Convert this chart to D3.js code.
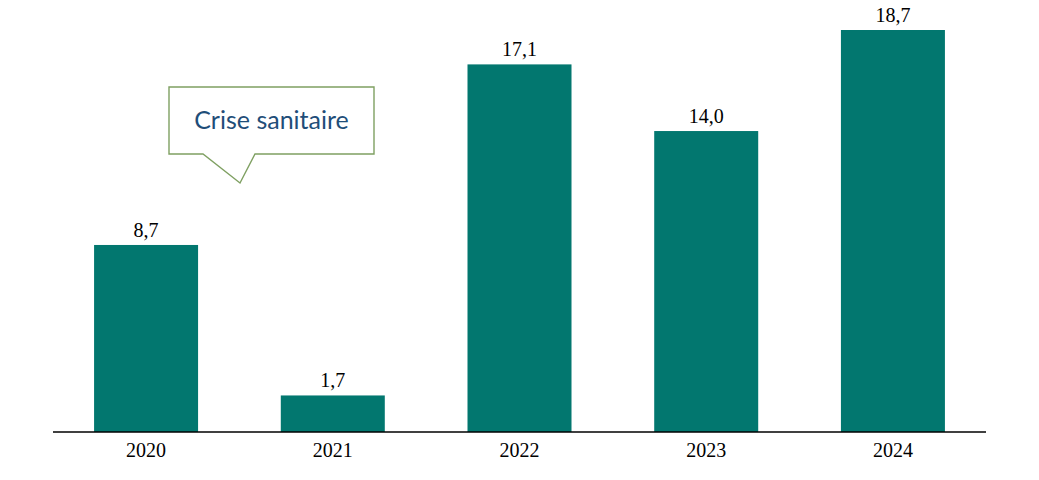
<!DOCTYPE html>
<html><head><meta charset="utf-8">
<script src="https://cdn.jsdelivr.net/npm/d3@7"></script>
<style>body{margin:0;background:#fff}</style>
</head><body>
<svg id="c" width="1039" height="480"></svg>
<script>
const categories = ["2020","2021","2022","2023","2024"];
const values = [8.7, 1.7, 17.1, 14.0, 18.7];
const valueLabels = ["8,7","1,7","17,1","14,0","18,7"];
const calloutText = "Crise sanitaire";

const svg = d3.select("#c");
const x = d3.scaleBand().domain(categories).range([53, 986]).paddingInner(0.443).paddingOuter(0.22);
const y = d3.scaleLinear().domain([0, 18.7]).range([432, 30]);

svg.selectAll("rect.bar").data(values).join("rect").attr("class","bar")
  .attr("x",(d,i)=>x(categories[i])).attr("width",x.bandwidth())
  .attr("y",d=>y(d)).attr("height",d=>y(0)-y(d)).attr("fill","#02776f");

svg.selectAll("text.val").data(values).join("text").attr("class","val")
  .attr("x",(d,i)=>x(categories[i])+x.bandwidth()/2).attr("y",d=>y(d)-8)
  .attr("text-anchor","middle").attr("font-family","Liberation Serif, serif")
  .attr("font-size",20).attr("fill","#000").text((d,i)=>valueLabels[i]);

const ax = svg.append("g").attr("transform","translate(0,432)")
  .call(d3.axisBottom(x).tickSize(0).tickPadding(11));
ax.select(".domain").attr("stroke","#000").attr("stroke-width",1.3).attr("d","M53,0H986");
ax.selectAll("text").attr("font-family","Liberation Serif, serif").attr("font-size",20).attr("fill","#000");

// callout
const g = svg.append("g");
g.append("path").attr("d","M169,87H374V154H255L240,183L203,154H169Z")
  .attr("fill","#fff").attr("stroke","#7fa062").attr("stroke-width",1.4);
g.append("text").attr("x",271.5).attr("y",129).attr("text-anchor","middle")
  .attr("font-family","Lato, Carlito, sans-serif").attr("font-size",25)
  .attr("fill","#1f4e79").text(calloutText);
</script>
</body></html>
